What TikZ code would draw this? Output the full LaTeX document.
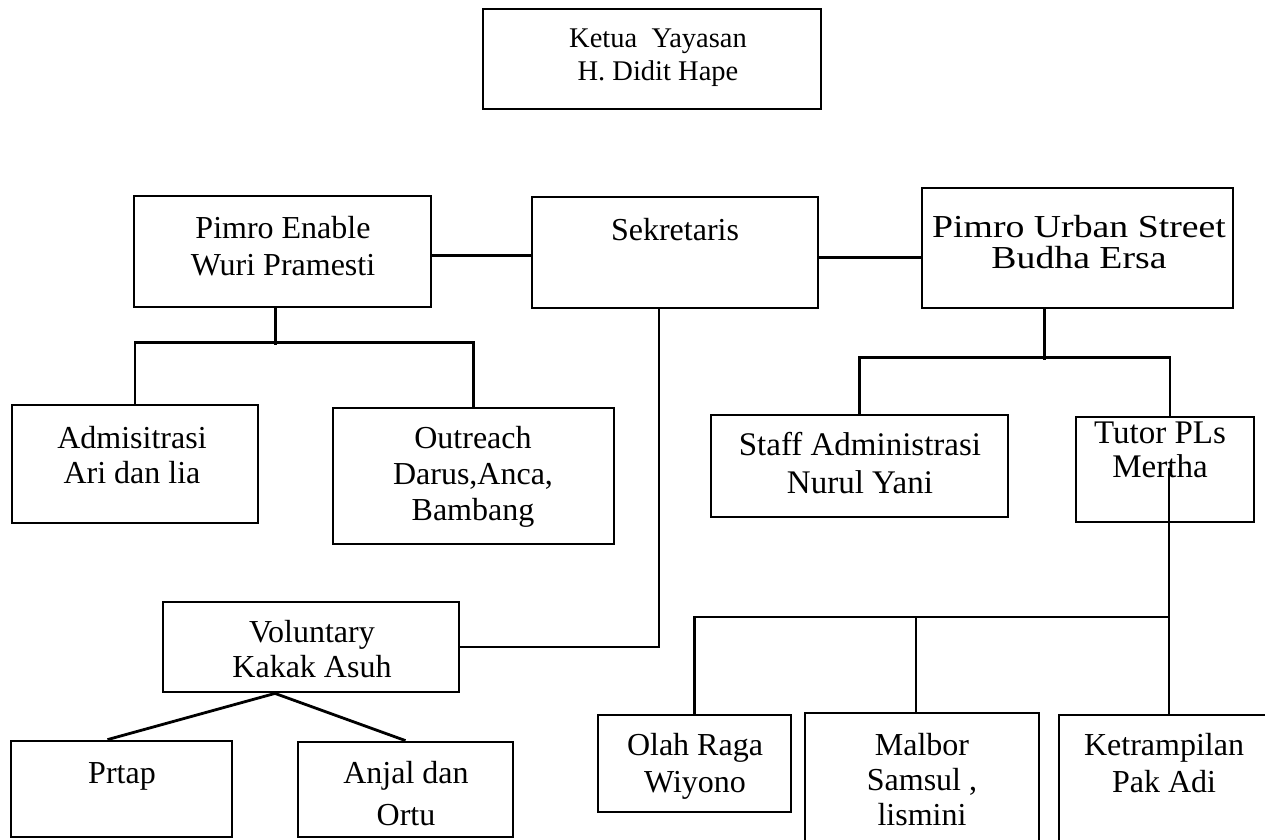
\documentclass[tikz,border=0pt]{standalone}
\usepackage{fontspec}
\setmainfont{Liberation Serif}
\usetikzlibrary{calc, positioning}

\tikzset{
  box/.style={draw, line width=2.8pt, rectangle, inner sep=0pt},
  lbl/.style={anchor=base, align=center, inner sep=0pt, font=\fontsize{32}{37}\selectfont},
  link/.style={line width=2.8pt},
}

\begin{document}
\begin{tikzpicture}[x=1pt, y=-1pt]
  \clip (0,0) rectangle (1265,839);
  \fill[white] (0,0) rectangle (1265,839);

  % Top row
  \node[box, minimum width=338pt, minimum height=100pt] (ketua) at (652,59) {};
  \node[box, minimum width=297pt, minimum height=111pt] (enable) at (282.5,251.5) {};
  \node[box, minimum width=286pt, minimum height=111pt] (sekr) at (675,252.5) {};
  \node[box, minimum width=311pt, minimum height=120pt] (urban) at (1077.5,248) {};

  % Second row
  \node[box, minimum width=246pt, minimum height=118pt] (admin) at (135,464) {};
  \node[box, minimum width=281pt, minimum height=136pt] (outr) at (473.5,476) {};
  \node[box, minimum width=297pt, minimum height=102pt] (staff) at (859.5,466) {};
  \node[box, minimum width=178pt, minimum height=105pt] (tutor) at (1165,469.5) {};

  % Lower rows
  \node[box, minimum width=296pt, minimum height=90pt] (volun) at (311,647) {};
  \node[box, minimum width=221pt, minimum height=96pt] (prtap) at (121.5,789) {};
  \node[box, minimum width=215pt, minimum height=95pt] (anjal) at (405.5,789.5) {};
  \node[box, minimum width=193pt, minimum height=97pt] (olah) at (694.5,763.5) {};
  \node[box, minimum width=234pt, minimum height=137pt] (malbor) at (922,781.5) {};
  \node[box, minimum width=221pt, minimum height=135pt] (ketr) at (1169.5,782.5) {};

  % Texts (base = last line)
  \node[lbl, font=\fontsize{28.5}{33}\selectfont] (ketuatxt) at (658,80) {Ketua\ \ Yayasan\\H. Didit Hape};
  \node[lbl] (enabletxt) at (283,275) {Pimro Enable\\Wuri Pramesti};
  \node[lbl] (sekrtxt) at (675,240) {Sekretaris};
  \node[lbl, font=\fontsize{32}{31}\selectfont\addfontfeature{FakeStretch=1.18}] (urbantxt) at (1079,268) {Pimro Urban Street\\Budha Ersa};
  \node[lbl, font=\fontsize{32}{35}\selectfont] (admintxt) at (132,483) {Admisitrasi\\Ari dan lia};
  \node[lbl, font=\fontsize{32}{36}\selectfont] (outrtxt) at (473,520) {Outreach\\Darus,Anca,\\Bambang};
  \node[lbl, font=\fontsize{33}{38}\selectfont] (stafftxt) at (860,493) {Staff Administrasi\\Nurul Yani};
  \node[lbl, font=\fontsize{33}{34}\selectfont] (tutortxt) at (1160,477) {Tutor PLs\\Mertha};
  \node[lbl, font=\fontsize{32}{35}\selectfont] (voluntxt) at (312,677) {Voluntary\\Kakak Asuh};
  \node[lbl] (prtaptxt) at (122,783) {Prtap};
  \node[lbl, font=\fontsize{32}{42}\selectfont] (anjaltxt) at (406,825) {Anjal dan\\Ortu};
  \node[lbl] (olahtxt) at (695,792) {Olah Raga\\Wiyono};
  \node[lbl, font=\fontsize{32}{35}\selectfont] (malbortxt) at (922,825) {Malbor\\Samsul ,\\lismini};
  \node[lbl] (ketrtxt) at (1164,792) {Ketrampilan\\Pak Adi};

  % Connectors
  \draw[link] ([yshift=-4pt]enable.east) -- ([yshift=-4pt]enable.east -| sekr.west);
  \draw[link] ([yshift=-5pt]sekr.east) -- ([yshift=-5pt]sekr.east -| urban.west);

  \draw[link] ([xshift=-7pt]enable.south) -- ++(0,37);
  \draw[link] (admin.north) -- ++(0,-61) -| (outr.north);

  \draw[link] ([xshift=-33pt]urban.south) -- ++(0,51);
  \draw[link] (staff.north) -- ++(0,-56) -| ([xshift=5pt]tutor.north);

  \draw[link] ([xshift=-16pt]sekr.south) |- (volun.east);
  \draw[link] ([xshift=-36pt]volun.south) -- ([xshift=-14pt]prtap.north);
  \draw[link] ([xshift=-36pt]volun.south) -- (anjal.north);

  \coordinate (tutorfoot) at (1169,468);
  \coordinate (tjoin) at (1169,617);
  \draw[link] (tutorfoot) -- (tutorfoot |- ketr.north);
  \draw[link] (olah.north) |- (tjoin);
  \draw[link] ([xshift=-6pt]malbor.north) -- ([xshift=-6pt]malbor.north |- tjoin);
\end{tikzpicture}
\end{document}
